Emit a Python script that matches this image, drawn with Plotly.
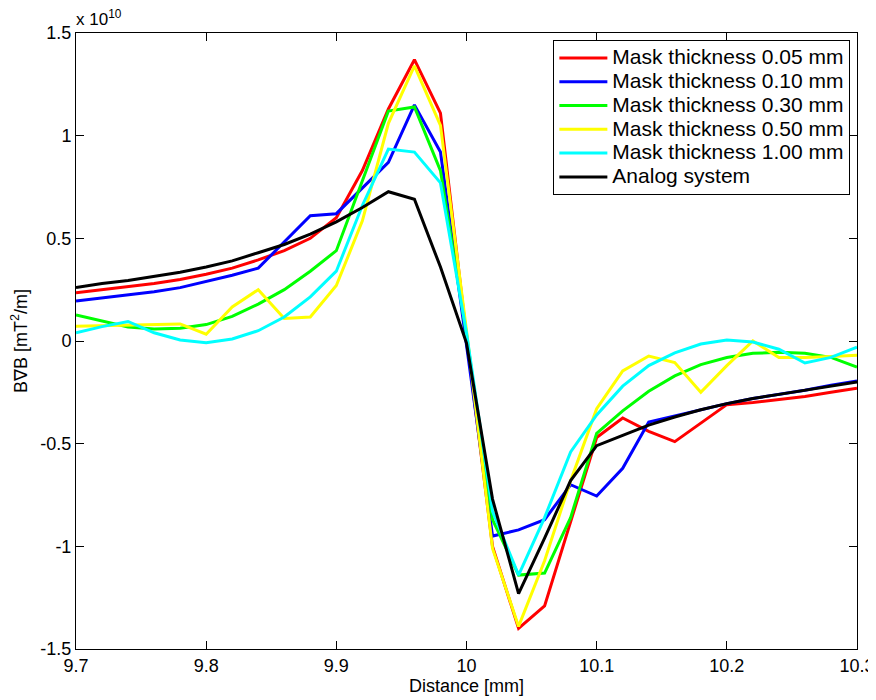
import plotly.graph_objects as go

# Distance [mm]
distance = [9.70, 9.72, 9.74, 9.76, 9.78, 9.80, 9.82, 9.84, 9.86, 9.88,
            9.90, 9.92, 9.94, 9.96, 9.98, 10.00, 10.02, 10.04, 10.06, 10.08,
            10.10, 10.12, 10.14, 10.16, 10.18, 10.20, 10.22, 10.24, 10.26, 10.28, 10.30]

# BgradB values in units of 1e10 mT^2/m
mask_005 = [0.235, 0.25, 0.265, 0.28, 0.30, 0.325, 0.355, 0.395, 0.44, 0.50,
            0.60, 0.83, 1.13, 1.37, 1.11, 0.02, -1.00, -1.40, -1.29, -0.88,
            -0.47, -0.375, -0.44, -0.49, -0.40, -0.31, -0.30, -0.285, -0.27, -0.25, -0.23]
mask_010 = [0.195, 0.21, 0.225, 0.24, 0.26, 0.29, 0.32, 0.355, 0.48, 0.61,
            0.62, 0.745, 0.87, 1.15, 0.92, -0.02, -0.95, -0.92, -0.87, -0.70,
            -0.755, -0.62, -0.395, -0.365, -0.335, -0.305, -0.28, -0.26, -0.24, -0.215, -0.195]
mask_030 = [0.127, 0.098, 0.068, 0.058, 0.062, 0.08, 0.12, 0.18, 0.25, 0.34,
            0.44, 0.78, 1.12, 1.14, 0.83, 0.03, -0.87, -1.14, -1.13, -0.86,
            -0.45, -0.34, -0.245, -0.17, -0.115, -0.08, -0.06, -0.055, -0.06, -0.08, -0.127]
mask_050 = [0.072, 0.075, 0.078, 0.08, 0.083, 0.033, 0.166, 0.25, 0.11, 0.117,
            0.27, 0.585, 1.06, 1.34, 1.05, 0.05, -1.01, -1.39, -1.07, -0.68,
            -0.33, -0.146, -0.073, -0.105, -0.25, -0.12, 0.0, -0.08, -0.08, -0.075, -0.07]
mask_100 = [0.04, 0.07, 0.095, 0.04, 0.005, -0.008, 0.01, 0.05, 0.117, 0.215,
            0.34, 0.66, 0.935, 0.92, 0.77, 0.04, -0.83, -1.14, -0.86, -0.54,
            -0.36, -0.22, -0.12, -0.058, -0.015, 0.005, -0.005, -0.04, -0.107, -0.08, -0.03]
analog = [0.26, 0.28, 0.295, 0.315, 0.335, 0.36, 0.39, 0.43, 0.47, 0.52,
          0.58, 0.65, 0.727, 0.69, 0.36, -0.01, -0.77, -1.23, -0.96, -0.68,
          -0.51, -0.46, -0.41, -0.37, -0.335, -0.305, -0.28, -0.26, -0.24, -0.22, -0.20]

series_names = ["Mask thickness 0.05 mm", "Mask thickness 0.10 mm", "Mask thickness 0.30 mm",
                "Mask thickness 0.50 mm", "Mask thickness 1.00 mm", "Analog system"]
series_values = [mask_005, mask_010, mask_030, mask_050, mask_100, analog]
series_colors = ["#ff0000", "#0000ff", "#00ff00", "#ffff00", "#00ffff", "#000000"]

x_tickvals = [9.7, 9.8, 9.9, 10.0, 10.1, 10.2, 10.3]
x_ticktext = ["9.7", "9.8", "9.9", "10", "10.1", "10.2", "10.3"]
y_tickvals = [1.5, 1.0, 0.5, 0.0, -0.5, -1.0, -1.5]
y_ticktext = ["1.5", "1", "0.5", "0", "-0.5", "-1", "-1.5"]

FONT = "Liberation Sans, Arial, sans-serif"

fig = go.Figure()
for name, vals, col in zip(series_names, series_values, series_colors):
    fig.add_trace(go.Scatter(x=distance, y=vals, mode="lines",
                             name='<span style="font-size:21px">' + name + '</span>',
                             line=dict(color=col, width=3)))

axis_common = dict(showgrid=False, zeroline=False, showline=True, linecolor="#000000",
                   linewidth=1, mirror="ticks", ticks="inside", ticklen=8,
                   tickcolor="#000000", tickwidth=1, automargin=False,
                   tickfont=dict(family=FONT, size=18, color="#000000"))

fig.update_xaxes(range=[9.7, 10.3], tickvals=x_tickvals, ticktext=x_ticktext,
                 title=dict(text="Distance [mm]", font=dict(family=FONT, size=18, color="#000000"),
                            standoff=4),
                 **axis_common)
fig.update_yaxes(range=[-1.5, 1.5], tickvals=y_tickvals, ticktext=y_ticktext,
                 title=dict(text="B\u2207B [mT<sup>2</sup>/m]",
                            font=dict(family=FONT, size=18, color="#000000"), standoff=10),
                 **axis_common)

fig.add_annotation(xref="paper", yref="paper", x=0, y=1, xanchor="left", yanchor="bottom",
                   xshift=-2, yshift=2, showarrow=False, text="x 10<sup>10</sup>",
                   font=dict(family=FONT, size=17, color="#000000"))

# the page body has an 8px margin, so the figure sits at (8, 8) in the window
fig.update_layout(
    width=876, height=700,
    margin=dict(l=68, r=27, t=25, b=59),
    paper_bgcolor="#ffffff", plot_bgcolor="#ffffff",
    showlegend=True,
    legend=dict(x=0.9915, y=0.9886, xanchor="right", yanchor="top",
                bgcolor="#ffffff", bordercolor="#000000", borderwidth=1,
                font=dict(family=FONT, size=16, color="#000000"),
                itemwidth=48, tracegroupgap=0),
)

fig.write_html("out.html")
